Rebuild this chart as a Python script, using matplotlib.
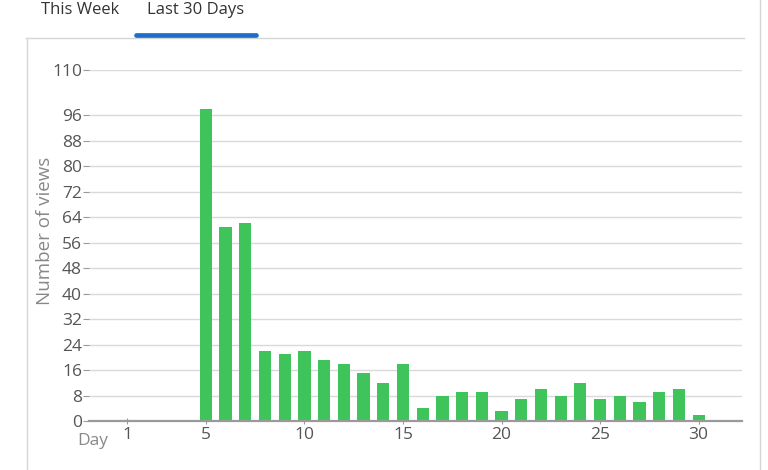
import numpy as np
import matplotlib
matplotlib.use('Agg')
import matplotlib.pyplot as plt
from matplotlib.lines import Line2D

plt.rcParams['font.family'] = ['Open Sans', 'DejaVu Sans']

# views per day over the last 30 days
days = list(range(1, 31))
views = [0, 0, 0, 0, 98, 61, 62, 22, 21, 22,
         19, 18, 15, 12, 18, 4, 8, 9, 9, 3,
         7, 10, 8, 12, 7, 8, 6, 9, 10, 2]
yticks = [0, 8, 16, 24, 32, 40, 48, 56, 64, 72, 80, 88, 96, 110]
xticks = [1, 5, 10, 15, 20, 25, 30]
tabs = ['This Week', 'Last 30 Days']

W, H = 768, 470
fig = plt.figure(figsize=(W / 100, H / 100), dpi=100)

def fx(px):
    return px / W

def fy(py):
    return 1 - py / H

# card frame and tab strip
fig.add_artist(Line2D([fx(27), fx(27)], [fy(38), fy(470)], color='#d6d6d6', lw=1))
fig.add_artist(Line2D([fx(759.5), fx(759.5)], [fy(0), fy(470)], color='#d6d6d6', lw=1))
fig.add_artist(Line2D([fx(26), fx(744)], [fy(37.5), fy(37.5)], color='#d6d6d6', lw=1))
fig.add_artist(Line2D([fx(136), fx(256)], [fy(34.5), fy(34.5)], color='#1c6fc8',
                      lw=3.4, solid_capstyle='round'))
fig.text(fx(80), fy(10), tabs[0], ha='center', va='center', fontsize=12, color='#333333')
fig.text(fx(196), fy(10), tabs[1], ha='center', va='center', fontsize=12, color='#333333')

ax = fig.add_axes([fx(89), fy(421), fx(742) - fx(89), fy(70.4) - fy(421)])
ax.bar(days, views, width=0.62, color='#3ec45a', zorder=3)
ax.set_xlim(-0.93, 32.2)
ax.set_ylim(0, 110)
ax.set_yticks(yticks)
ax.set_xticks(xticks)
ax.grid(axis='y', color='#d9d9d9', lw=1, zorder=0)
for s in ['top', 'right', 'left']:
    ax.spines[s].set_visible(False)
ax.spines['bottom'].set_color('#9a9a9a')
ax.spines['bottom'].set_linewidth(1.6)
ax.spines['bottom'].set_zorder(4)
ax.tick_params(axis='y', length=4, width=0.8, color='#999999', labelcolor='#555555',
               labelsize=12.5, pad=1)
ax.tick_params(axis='x', length=5, width=0.8, color='#999999', labelcolor='#555555',
               labelsize=12.5, pad=2, direction='inout')
fig.text(fx(45), fy(231), 'Number of views', rotation=90, ha='center', va='center',
         fontsize=13.5, color='#888888')
fig.text(fx(93), fy(441), 'Day', ha='center', va='center', fontsize=12.5, color='#888888')

fig.savefig('out.png', dpi=100)
plt.close()
